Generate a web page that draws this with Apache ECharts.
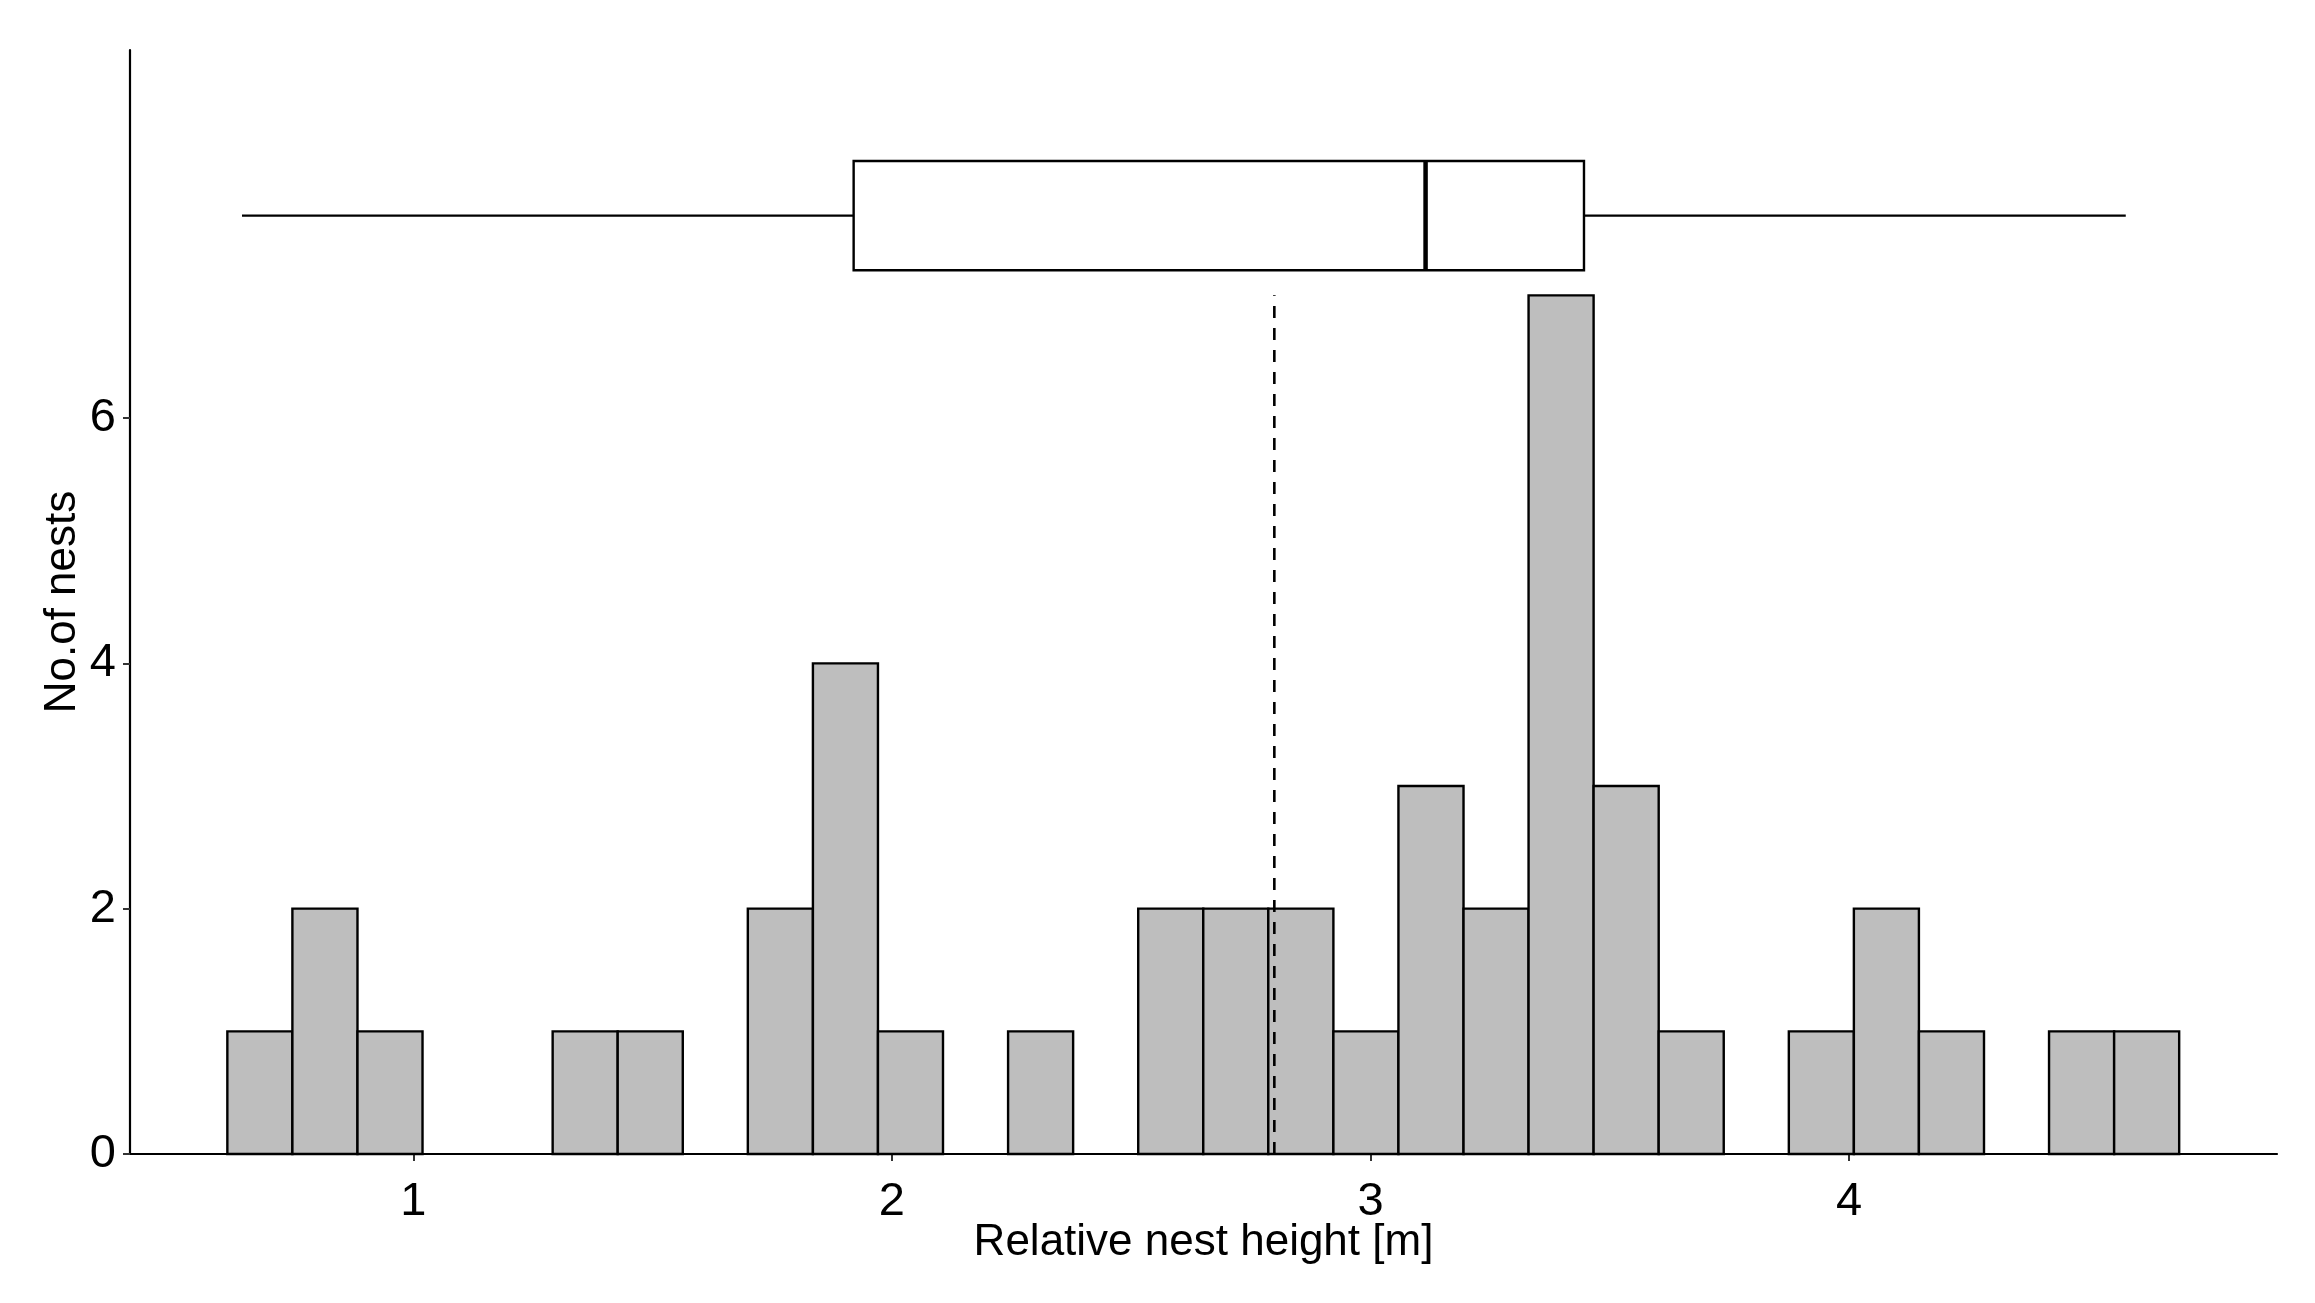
<!DOCTYPE html>
<html>
<head>
<meta charset="utf-8">
<script src="https://cdn.jsdelivr.net/npm/echarts@6/dist/echarts.min.js"></script>
<style>
html,body{margin:0;padding:0;background:#fff;}
#chart{width:2315px;height:1303px;}
</style>
</head>
<body>
<div id="chart"></div>
<script>
// ---- data ----
const binEdges = [0.6114, 0.7473, 0.8833, 1.0192, 1.1552, 1.2911, 1.4270, 1.5630, 1.6989, 1.8349,
                  1.9708, 2.1067, 2.2427, 2.3786, 2.5146, 2.6505, 2.7864, 2.9224, 3.0583, 3.1943,
                  3.3302, 3.4661, 3.6021, 3.7380, 3.8740, 4.0099, 4.1458, 4.2818, 4.4177, 4.5537, 4.6896];
const counts = [1, 2, 1, 0, 0, 1, 1, 0, 2, 4, 1, 0, 1, 0, 2, 2, 2, 1, 3, 2, 7, 3, 1, 0, 1, 2, 1, 0, 1, 1];
// boxplot: lower whisker, Q1, median, Q3, upper whisker
const boxStats = [0.642, 1.920, 3.115, 3.446, 4.578];
const meanValue = 2.799;
const meanLineTop = 7;
const xTicks = [1, 2, 3, 4];
const yTicks = [0, 2, 4, 6];
const xName = 'Relative nest height [m]';
const yName = 'No.of nests';

// ---- layout constants ----
const BOX_Y = 7.65, BOX_HALF = 0.445;
const FONT = "'Liberation Sans', Arial, sans-serif";

const histData = [];
counts.forEach((c, i) => { if (c > 0) histData.push([binEdges[i], binEdges[i + 1], c]); });

const chart = echarts.init(document.getElementById('chart'), null, {renderer: 'canvas'});
const axisCommon = {
  axisLine: {show: true, onZero: false, lineStyle: {color: '#000', width: 2.2}},
  splitLine: {show: false},
  nameLocation: 'middle',
  nameMoveOverlap: false,
  nameTextStyle: {fontSize: 44, color: '#000', fontFamily: FONT}
};
chart.setOption({
  animation: false,
  backgroundColor: '#fff',
  grid: {left: 130, right: 38, top: 50, bottom: 149, containLabel: false},
  xAxis: Object.assign({}, axisCommon, {
    type: 'value', min: 0.408, max: 4.894,
    name: xName, nameGap: 67,
    axisTick: {show: true, customValues: xTicks, length: 7, lineStyle: {color: '#333', width: 2}},
    axisLabel: {customValues: xTicks, fontSize: 47, color: '#000', fontFamily: FONT, margin: 25}
  }),
  yAxis: Object.assign({}, axisCommon, {
    type: 'value', min: 0, max: 9,
    name: yName, nameGap: 45, nameRotate: 90,
    axisTick: {show: true, customValues: yTicks, length: 7, lineStyle: {color: '#333', width: 2}},
    axisLabel: {customValues: yTicks, fontSize: 47, color: '#000', fontFamily: FONT, margin: 14}
  }),
  series: [
    {
      type: 'custom',
      data: histData,
      z: 2,
      renderItem: function (params, api) {
        const p0 = api.coord([api.value(0), api.value(2)]);
        const p1 = api.coord([api.value(1), 0]);
        return {
          type: 'rect',
          shape: {x: p0[0], y: p0[1], width: p1[0] - p0[0], height: p1[1] - p0[1]},
          style: {fill: '#BEBEBE', stroke: '#000', lineWidth: 2.4}
        };
      }
    },
    {
      type: 'custom',
      data: [[meanValue, 0, meanLineTop]],
      z: 3,
      renderItem: function (params, api) {
        const a = api.coord([api.value(0), api.value(1)]);
        const b = api.coord([api.value(0), api.value(2)]);
        return {
          type: 'line',
          shape: {x1: a[0], y1: a[1], x2: b[0], y2: b[1]},
          style: {stroke: '#000', lineWidth: 2.6, lineDash: [12, 10]}
        };
      }
    },
    {
      type: 'custom',
      data: [boxStats],
      z: 3,
      renderItem: function (params, api) {
        const lo = api.value(0), q1 = api.value(1), med = api.value(2), q3 = api.value(3), hi = api.value(4);
        const yc = api.coord([q1, BOX_Y])[1];
        const yt = api.coord([q1, BOX_Y + BOX_HALF])[1];
        const yb = api.coord([q1, BOX_Y - BOX_HALF])[1];
        const xlo = api.coord([lo, BOX_Y])[0], xq1 = api.coord([q1, BOX_Y])[0];
        const xmed = api.coord([med, BOX_Y])[0], xq3 = api.coord([q3, BOX_Y])[0];
        const xhi = api.coord([hi, BOX_Y])[0];
        const st = {stroke: '#000', lineWidth: 2.4, fill: null};
        return {
          type: 'group',
          children: [
            {type: 'line', shape: {x1: xlo, y1: yc, x2: xq1, y2: yc}, style: st},
            {type: 'line', shape: {x1: xq3, y1: yc, x2: xhi, y2: yc}, style: st},
            {type: 'rect', shape: {x: xq1, y: yt, width: xq3 - xq1, height: yb - yt},
             style: {stroke: '#000', lineWidth: 2.4, fill: '#fff'}},
            {type: 'line', shape: {x1: xmed, y1: yt, x2: xmed, y2: yb},
             style: {stroke: '#000', lineWidth: 4.5}}
          ]
        };
      }
    }
  ]
});
</script>
</body>
</html>
